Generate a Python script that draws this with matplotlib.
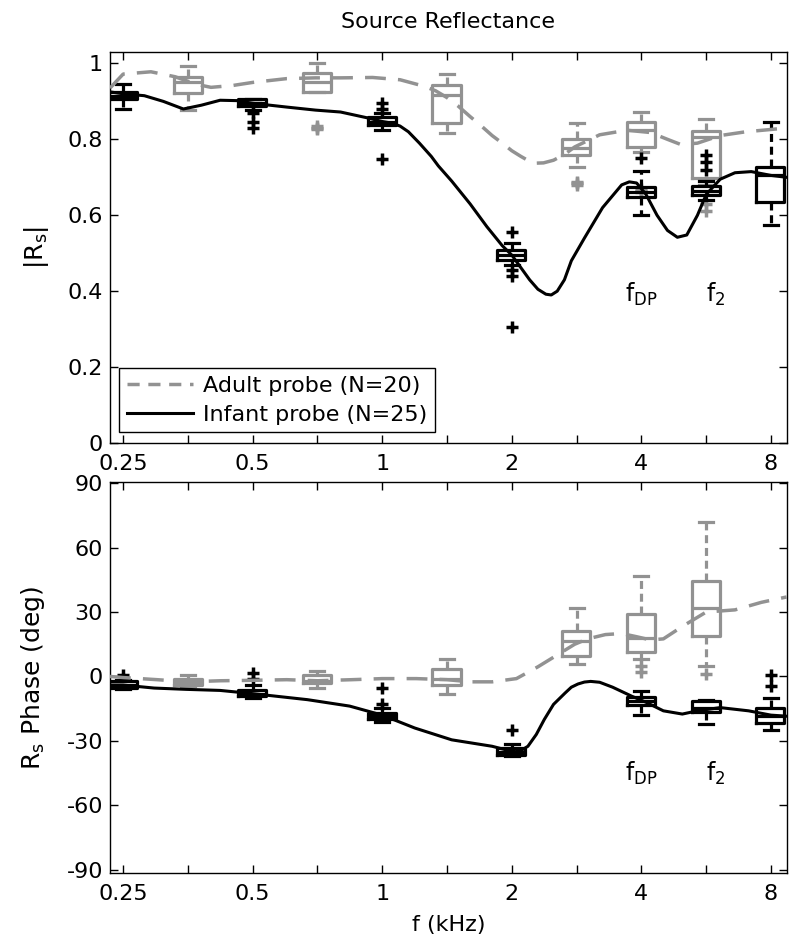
import matplotlib.pyplot as plt
from matplotlib.lines import Line2D
from matplotlib.ticker import NullLocator

plt.rcParams['font.family'] = 'DejaVu Sans'
plt.rcParams['font.size'] = 16
plt.rcParams['mathtext.default'] = 'regular'
plt.rcParams['axes.unicode_minus'] = False

GRAY = '#929292'

tick_freqs = [0.25, 0.354, 0.5, 0.707, 1, 1.414, 2, 2.83, 4, 5.66, 8]
tick_labels = ['0.25', '', '0.5', '', '1', '', '2', '', '4', '', '8']

# mean curves, |Rs|
adult_mag_f = [0.233, 0.25, 0.29, 0.33, 0.37, 0.40, 0.45, 0.5, 0.6, 0.7, 0.8, 0.95, 1.1, 1.25, 1.33,
               1.414, 1.5, 1.6, 1.7, 1.8, 1.9, 2.0, 2.1, 2.24, 2.37, 2.5, 2.65, 2.8, 3.2, 3.7, 4.2,
               4.6, 4.95, 5.4, 6.1, 7.0, 8.0, 8.7]
adult_mag = [0.935, 0.972, 0.978, 0.965, 0.945, 0.937, 0.942, 0.95, 0.96, 0.962, 0.962, 0.963, 0.957,
             0.94, 0.928, 0.91, 0.888, 0.86, 0.835, 0.81, 0.79, 0.77, 0.755, 0.737, 0.738, 0.745, 0.76,
             0.78, 0.812, 0.824, 0.818, 0.80, 0.786, 0.79, 0.81, 0.82, 0.826, 0.83]

infant_mag_f = [0.233, 0.25, 0.28, 0.31, 0.345, 0.38, 0.42, 0.46, 0.5, 0.6, 0.7, 0.8, 0.92, 1.0, 1.05,
                1.1, 1.15, 1.22, 1.3, 1.35, 1.45, 1.6, 1.75, 1.9, 2.0, 2.2, 2.3, 2.4, 2.47, 2.55, 2.65,
                2.75, 2.95, 3.25, 3.6, 3.75, 3.9, 4.1, 4.35, 4.6, 4.85, 5.1, 5.4, 5.66, 6.1, 6.6, 7.2,
                8.0, 8.7]
infant_mag = [0.925, 0.92, 0.915, 0.90, 0.88, 0.89, 0.903, 0.902, 0.895, 0.885, 0.877, 0.872, 0.857,
              0.847, 0.843, 0.835, 0.82, 0.79, 0.755, 0.73, 0.69, 0.63, 0.57, 0.52, 0.495, 0.43, 0.405,
              0.392, 0.39, 0.40, 0.43, 0.48, 0.54, 0.62, 0.68, 0.688, 0.685, 0.655, 0.60, 0.56, 0.542,
              0.548, 0.60, 0.655, 0.695, 0.712, 0.715, 0.705, 0.70]

# mean curves, phase
adult_ph_f = [0.233, 0.25, 0.3, 0.354, 0.42, 0.5, 0.6, 0.707, 0.85, 1.0, 1.2, 1.414, 1.6, 1.8, 2.05,
              2.3, 2.55, 2.8, 3.0, 3.3, 3.6, 3.9, 4.2, 4.5, 5.0, 5.66, 6.6, 7.6, 8.7]
adult_ph = [0, -0.5, -1.5, -2.5, -2, -1.8, -1.5, -2, -1.5, -1, -1, -1.5, -2.5, -2.5, -1,
            4.5, 10, 15, 17.5, 19.5, 20, 18.5, 17, 17.5, 23.5, 30, 31, 34.5, 37]

infant_ph_f = [0.233, 0.25, 0.295, 0.35, 0.42, 0.5, 0.67, 0.84, 1.0, 1.19, 1.45, 1.8, 1.95, 2.04,
               2.1, 2.18, 2.28, 2.38, 2.5, 2.66, 2.75, 2.85, 2.95, 3.05, 3.2, 3.43, 3.8, 4.1, 4.5,
               4.98, 5.4, 6.1, 7.1, 8.0, 8.7]
infant_ph = [-4, -4, -5.4, -6, -6.5, -8, -10.8, -13.8, -18, -24, -29.5, -32.5, -34.3, -35,
             -34.5, -32.5, -27, -20, -13, -7.7, -5, -3.5, -2.6, -2.3, -2.7, -5, -9.2, -12, -16,
             -17.5, -16, -14.5, -16, -18, -18.5]

# box statistics
infant_freqs = [0.25, 0.5, 1, 2, 4, 5.66, 8]
adult_freqs = [0.354, 0.707, 1.414, 2.83, 4, 5.66]

infant_mag_med = [0.915, 0.895, 0.845, 0.495, 0.66, 0.665, 0.705]
infant_mag_q1 = [0.905, 0.889, 0.837, 0.482, 0.647, 0.653, 0.634]
infant_mag_q3 = [0.925, 0.905, 0.858, 0.508, 0.674, 0.676, 0.726]
infant_mag_lo = [0.879, 0.878, 0.824, 0.47, 0.60, 0.64, 0.574]
infant_mag_hi = [0.945, 0.905, 0.87, 0.526, 0.716, 0.69, 0.847]
infant_mag_out = [[], [0.87, 0.845, 0.83], [0.895, 0.88, 0.747], [0.555, 0.455, 0.44, 0.305],
                  [0.75], [0.76, 0.74, 0.72], []]

adult_mag_med = [0.95, 0.95, 0.916, 0.776, 0.824, 0.805]
adult_mag_q1 = [0.921, 0.924, 0.842, 0.76, 0.779, 0.697]
adult_mag_q3 = [0.963, 0.974, 0.942, 0.80, 0.847, 0.821]
adult_mag_lo = [0.876, 0.924, 0.818, 0.726, 0.766, 0.68]
adult_mag_hi = [0.992, 1.0, 0.971, 0.842, 0.871, 0.853]
adult_mag_out = [[], [0.826, 0.83, 0.834], [], [0.68, 0.684, 0.688], [0.66, 0.665, 0.67], [0.63, 0.61]]

infant_ph_med = [-4, -8, -18.5, -35, -11.5, -14.5, -18.5]
infant_ph_q1 = [-5.5, -9.3, -20, -36.4, -13.4, -16.5, -21.7]
infant_ph_q3 = [-2.3, -6.5, -17, -33.2, -9.4, -11.5, -14.8]
infant_ph_lo = [-6, -10, -21, -37, -18, -22, -25]
infant_ph_hi = [-1.5, -4, -14.5, -31.4, -7, -11, -10]
infant_ph_out = [[0.5], [1.5, -1], [-5.5, -13], [-25], [], [], [0.5, -4.5]]

adult_ph_med = [-2.5, -2, -1, 16.5, 18, 32]
adult_ph_q1 = [-3.8, -3.2, -4.1, 9.7, 11.5, 19]
adult_ph_q3 = [-1, 0.5, 3.7, 21, 29, 44.5]
adult_ph_lo = [-4.5, -5.5, -8.3, 6, 8, 5]
adult_ph_hi = [0.5, 2.5, 8, 32, 47, 72]
adult_ph_out = [[], [], [], [], [5, 2], [1]]


def make_stats(med, q1, q3, lo, hi, out):
    return [dict(med=m, q1=a, q3=b, whislo=l, whishi=h, fliers=o)
            for m, a, b, l, h, o in zip(med, q1, q3, lo, hi, out)]


def draw_boxes(ax, freqs, stats, color):
    widths = [f * 0.15 for f in freqs]
    ax.bxp(stats, positions=freqs, widths=widths, manage_ticks=False,
           boxprops=dict(color=color, lw=2.3),
           medianprops=dict(color=color, lw=2.3),
           whiskerprops=dict(color=color, lw=2.3, linestyle=(0, (2.5, 1.5))),
           capprops=dict(color=color, lw=2.3),
           flierprops=dict(marker='+', markeredgecolor=color, markersize=9,
                           markeredgewidth=2.5, linestyle='none'),
           zorder=2)


def style_axis(ax):
    ax.set_xscale('log')
    ax.set_xlim(0.233, 8.71)
    ax.set_xticks(tick_freqs)
    ax.set_xticklabels(tick_labels)
    ax.xaxis.set_minor_locator(NullLocator())
    ax.tick_params(direction='in', top=True, right=True, length=6, width=1)
    ax.tick_params(axis='x', pad=8)
    ax.tick_params(axis='y', pad=5)
    for s in ax.spines.values():
        s.set_linewidth(1.0)


fig = plt.figure(figsize=(8, 9.48), dpi=100)
ax1 = fig.add_axes([0.1375, 0.5327, 0.846, 0.4124])
ax2 = fig.add_axes([0.1375, 0.0791, 0.846, 0.4124])

# top: magnitude
draw_boxes(ax1, adult_freqs, make_stats(adult_mag_med, adult_mag_q1, adult_mag_q3,
                                        adult_mag_lo, adult_mag_hi, adult_mag_out), GRAY)
draw_boxes(ax1, infant_freqs, make_stats(infant_mag_med, infant_mag_q1, infant_mag_q3,
                                         infant_mag_lo, infant_mag_hi, infant_mag_out), 'black')
ax1.plot(adult_mag_f, adult_mag, color=GRAY, lw=2.5, linestyle=(0, (6, 3.5)), zorder=3)
ax1.plot(infant_mag_f, infant_mag, color='black', lw=2.2, zorder=4)
style_axis(ax1)
ax1.set_ylim(0, 1.03)
ax1.set_yticks([0, 0.2, 0.4, 0.6, 0.8, 1])
ax1.set_yticklabels(['0', '0.2', '0.4', '0.6', '0.8', '1'])
ax1.set_ylabel('|R$_s$|', fontsize=18, labelpad=12)
ax1.set_title('Source Reflectance', fontsize=16, pad=17)
ax1.text(4.0, 0.392, 'f$_{DP}$', ha='center', va='center', fontsize=17)
ax1.text(5.95, 0.392, 'f$_2$', ha='center', va='center', fontsize=17)

handles = [Line2D([], [], color=GRAY, lw=2.5, linestyle=(0, (3.5, 2.5))),
           Line2D([], [], color='black', lw=2.2)]
leg = ax1.legend(handles, ['Adult probe (N=20)', 'Infant probe (N=25)'],
                 loc='lower left', bbox_to_anchor=(0.013, 0.027), borderaxespad=0,
                 fancybox=False, edgecolor='black', framealpha=1, handlelength=3,
                 handletextpad=0.45, borderpad=0.35, labelspacing=0.4)
leg.get_frame().set_linewidth(1.0)

# bottom: phase
draw_boxes(ax2, adult_freqs, make_stats(adult_ph_med, adult_ph_q1, adult_ph_q3,
                                        adult_ph_lo, adult_ph_hi, adult_ph_out), GRAY)
draw_boxes(ax2, infant_freqs, make_stats(infant_ph_med, infant_ph_q1, infant_ph_q3,
                                         infant_ph_lo, infant_ph_hi, infant_ph_out), 'black')
ax2.plot(adult_ph_f, adult_ph, color=GRAY, lw=2.5, linestyle=(0, (6, 3.5)), zorder=3)
ax2.plot(infant_ph_f, infant_ph, color='black', lw=2.2, zorder=4)
style_axis(ax2)
ax2.set_ylim(-91.5, 90.5)
ax2.set_yticks([-90, -60, -30, 0, 30, 60, 90])
ax2.set_ylabel('R$_s$ Phase (deg)', fontsize=18, labelpad=14)
ax2.set_xlabel('f (kHz)', labelpad=8)
ax2.text(4.0, -45, 'f$_{DP}$', ha='center', va='center', fontsize=17)
ax2.text(5.95, -45, 'f$_2$', ha='center', va='center', fontsize=17)

fig.savefig('out.png', dpi=100)
